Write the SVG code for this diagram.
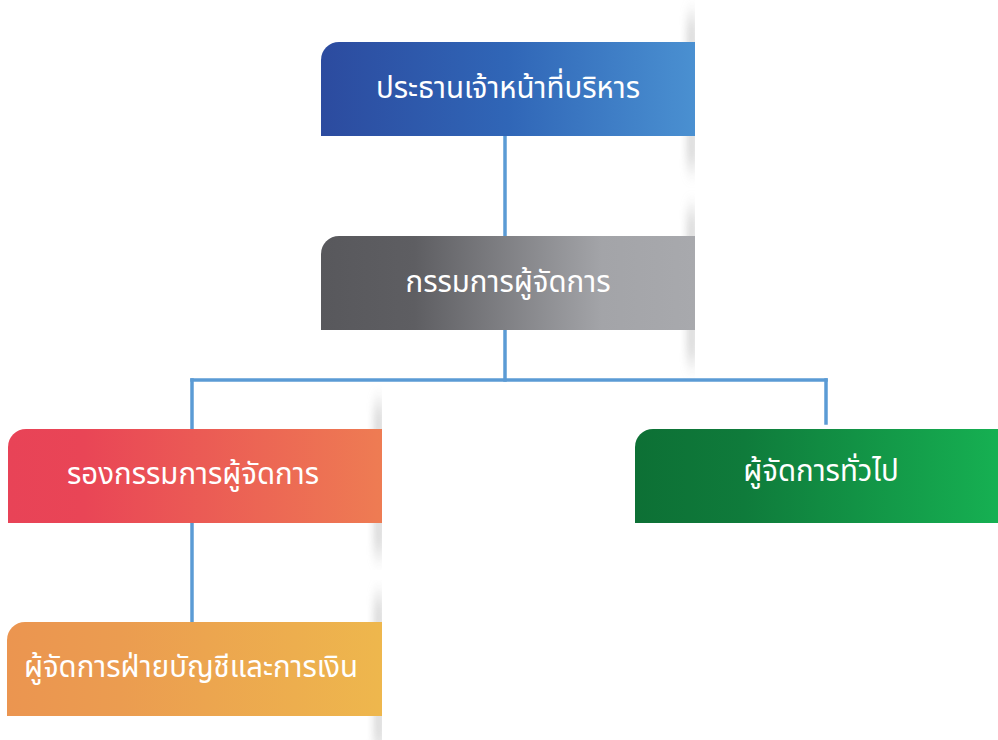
<svg xmlns="http://www.w3.org/2000/svg" width="998" height="740" viewBox="0 0 998 740">
<defs>
<style>
.lbl{font-family:"Noto Sans Thai","Noto Sans","Liberation Sans",sans-serif;font-size:29.4px;fill:#ffffff;text-anchor:middle;dominant-baseline:central}
.conn{stroke:#5b9bd5;stroke-width:3.5;fill:none;stroke-linecap:square}
.shd{fill:#8a8a8a;opacity:0.55;filter:url(#blur)}
</style>
<filter id="blur" x="-300%" y="-50%" width="700%" height="200%"><feGaussianBlur stdDeviation="5 10"/></filter>
<linearGradient id="gBlue" x1="0" y1="0" x2="1" y2="0"><stop offset="0" stop-color="#2c4b9f"/><stop offset="0.5" stop-color="#3066b7"/><stop offset="1" stop-color="#4a90d1"/></linearGradient>
<linearGradient id="gGray" x1="0" y1="0" x2="1" y2="0"><stop offset="0" stop-color="#58585c"/><stop offset="0.25" stop-color="#5e5e62"/><stop offset="0.75" stop-color="#a3a4a8"/><stop offset="1" stop-color="#a8a9ad"/></linearGradient>
<linearGradient id="gRed" x1="0" y1="0" x2="1" y2="0"><stop offset="0" stop-color="#e84357"/><stop offset="0.2" stop-color="#e94556"/><stop offset="1" stop-color="#ee7c53"/></linearGradient>
<linearGradient id="gGreen" x1="0" y1="0" x2="1" y2="0"><stop offset="0" stop-color="#0d7035"/><stop offset="0.3" stop-color="#0f7b3b"/><stop offset="1" stop-color="#16b052"/></linearGradient>
<linearGradient id="gOrange" x1="0" y1="0" x2="1" y2="0"><stop offset="0" stop-color="#eb9550"/><stop offset="0.3" stop-color="#eb9c50"/><stop offset="1" stop-color="#eeb74d"/></linearGradient>
<clipPath id="c1"><rect x="660" y="0" width="35" height="200"/></clipPath>
<clipPath id="c2"><rect x="660" y="190" width="35" height="190"/></clipPath>
<clipPath id="c3"><rect x="350" y="385" width="32" height="185"/></clipPath>
<clipPath id="c4"><rect x="350" y="580" width="32" height="160"/></clipPath>
</defs>
<rect width="998" height="740" fill="#ffffff"/>

<g id="connectors">
<line class="conn" x1="505" y1="136" x2="505" y2="236"/>
<line class="conn" x1="505" y1="330" x2="505" y2="380"/>
<line class="conn" x1="192" y1="380" x2="826" y2="380"/>
<line class="conn" x1="192" y1="380" x2="192" y2="429"/>
<line class="conn" x1="826" y1="380" x2="826" y2="423"/>
<line class="conn" x1="192" y1="523" x2="192" y2="622"/>
</g>

<g id="node-ceo">
<g clip-path="url(#c1)"><rect class="shd" x="689" y="16" width="6" height="152"/></g>
<path d="M339,42 H695 V136 H321 V60 A18,18 0 0 1 339,42 Z" fill="url(#gBlue)"/>
<text class="lbl" x="508" y="89">ประธานเจ้าหน้าที่บริหาร</text>
</g>

<g id="node-md">
<g clip-path="url(#c2)"><rect class="shd" x="689" y="210" width="6" height="152"/></g>
<path d="M339,236 H695 V330 H321 V254 A18,18 0 0 1 339,236 Z" fill="url(#gGray)"/>
<text class="lbl" x="508" y="283">กรรมการผู้จัดการ</text>
</g>

<g id="node-deputy">
<g clip-path="url(#c3)"><rect class="shd" x="376" y="403" width="6" height="152"/></g>
<path d="M26,429 H382 V523 H8 V447 A18,18 0 0 1 26,429 Z" fill="url(#gRed)"/>
<text class="lbl" x="193" y="475">รองกรรมการผู้จัดการ</text>
</g>

<g id="node-gm">
<path d="M653,429 H998 V523 H635 V447 A18,18 0 0 1 653,429 Z" fill="url(#gGreen)"/>
<text class="lbl" x="821" y="472">ผู้จัดการทั่วไป</text>
</g>

<g id="node-finance">
<g clip-path="url(#c4)"><rect class="shd" x="376" y="596" width="6" height="152"/></g>
<path d="M25,622 H382 V716 H7 V640 A18,18 0 0 1 25,622 Z" fill="url(#gOrange)"/>
<text class="lbl" x="191" y="668">ผู้จัดการฝ่ายบัญชีและการเงิน</text>
</g>
</svg>
